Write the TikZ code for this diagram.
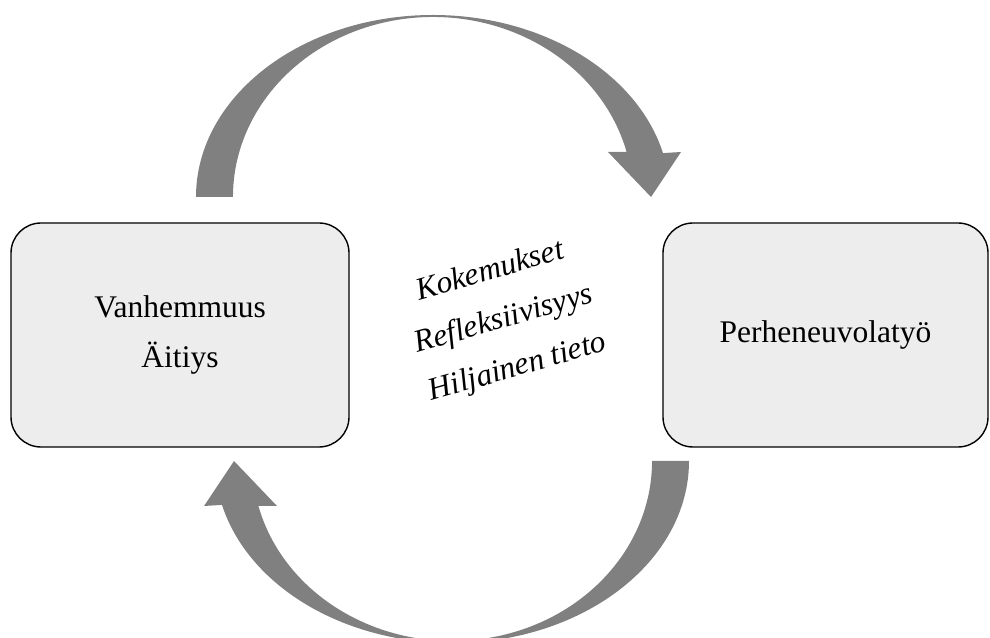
\documentclass[tikz,border=0pt]{standalone}
\usepackage{fontspec}
\setmainfont{Liberation Serif}
\definecolor{arrowgray}{HTML}{808080}
\definecolor{boxfill}{HTML}{EDEDED}
\begin{document}
\begin{tikzpicture}[x=1pt,y=1pt,
  roundbox/.style={draw=black,line width=1.4pt,fill=boxfill,rounded corners=30pt,
    align=center,font=\fontsize{31.5pt}{50pt}\selectfont,inner sep=0pt},
  blockarrow/.style={fill=arrowgray}]
\useasboundingbox (0,0) rectangle (990,637);
\clip (0,0) rectangle (990,637);
% curved block arrows
\def\curvedarrow{(196,440) arc[start angle=180,end angle=13.96,x radius=237pt,y radius=182pt]
  -- (681,485) -- (651,440) -- (608,485) -- (626.6,485)
  arc[start angle=14.48,end angle=180,x radius=200pt,y radius=180pt] -- cycle}
\fill[blockarrow] \curvedarrow;
\fill[blockarrow,rotate around={180:(442.5,308)}] \curvedarrow;
% boxes
\node[roundbox,minimum width=338pt,minimum height=224pt] (vanh) at (180,302)
  {Vanhemmuus\\Äitiys};
\node[roundbox,minimum width=325pt,minimum height=224pt] (perhe) at (825.5,302)
  {Perheneuvolatyö};
% centre text
\node[align=center,rotate=16,font=\fontsize{31.5pt}{50pt}\selectfont\itshape] (mid) at (504,317)
  {Kokemukset\\Refleksiivisyys\\Hiljainen tieto};
\end{tikzpicture}
\end{document}
